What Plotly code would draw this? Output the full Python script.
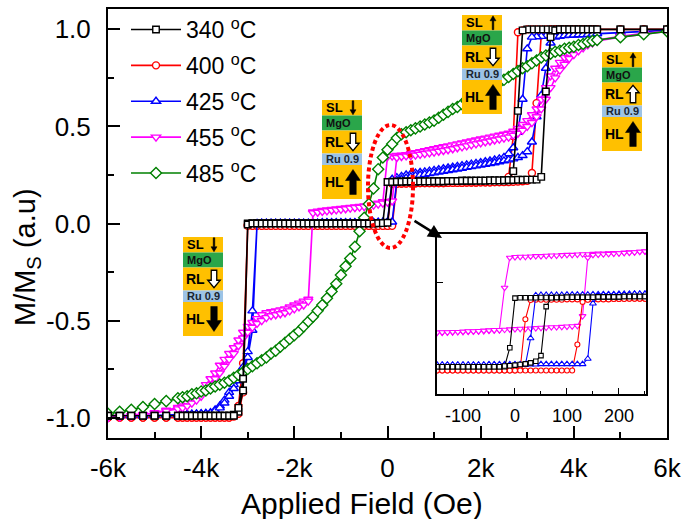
import plotly.graph_objects as go

# ---------------- data ----------------
H_GRID = [-6000, -5750, -5500, -5250, -5000, -4750, -4500,
          -4400, -4300, -4200, -4100, -4000, -3900, -3800, -3700, -3600, -3500,
          -3400, -3300, -3200, -3100, -3000, -2900, -2800, -2700, -2600, -2500,
          -2400, -2300, -2200, -2100, -2000, -1900, -1800, -1700, -1600, -1500,
          -1400, -1300, -1200, -1100, -1000, -900, -800, -700, -600, -500,
          -400, -300, -200, -100, 0, 100, 200, 300, 400, 500,
          600, 700, 800, 900, 1000, 1100, 1200, 1300, 1400, 1500,
          1600, 1700, 1800, 1900, 2000, 2100, 2200, 2300, 2400, 2500,
          2600, 2700, 2800, 2900, 3000, 3100, 3200, 3300, 3400, 3500,
          3600, 3700, 3800, 3900, 4000, 4100, 4200, 4300, 4400,
          4500, 5000, 5500, 6000]

# 340 C
M_340_DOWN = [-0.99, -0.99, -0.99, -0.99, -0.99, -0.99, -0.99,
              -0.99, -0.99, -0.99, -0.99, -0.99, -0.99, -0.99, -0.99, -0.99, -0.99,
              -0.99, -0.985, -0.97, -0.86, 0.0, 0.002, 0.002, 0.002, 0.002, 0.002,
              0.002, 0.002, 0.002, 0.002, 0.002, 0.002, 0.002, 0.002, 0.002, 0.002,
              0.002, 0.002, 0.002, 0.002, 0.002, 0.002, 0.002, 0.002, 0.002, 0.002,
              0.002, 0.002, 0.002, 0.003, 0.214, 0.215, 0.215, 0.216, 0.216, 0.216,
              0.216, 0.217, 0.217, 0.217, 0.218, 0.218, 0.218, 0.219, 0.219, 0.219,
              0.22, 0.22, 0.22, 0.221, 0.221, 0.221, 0.222, 0.222, 0.222, 0.223,
              0.223, 0.27, 0.58, 0.995, 1.0, 1.0, 1.0, 1.0, 1.0, 1.0,
              1.0, 1.0, 1.0, 1.0, 1.0, 1.0, 1.0, 1.0, 1.0,
              1.0, 1.0, 1.0, 1.0]
M_340_UP = [-0.99, -0.99, -0.99, -0.99, -0.99, -0.99, -0.99,
            -0.99, -0.99, -0.99, -0.99, -0.99, -0.99, -0.99, -0.99, -0.99, -0.99,
            -0.99, -0.99, -0.95, -0.80, -0.005, 0.0, 0.0, 0.0, 0.0, 0.0,
            0.0, 0.0, 0.0, 0.0, 0.0, 0.0, 0.0, 0.0, 0.0, 0.0,
            0.0, 0.0, 0.0, 0.0, 0.0, 0.0, 0.0, 0.0, 0.0, 0.0,
            0.0, 0.0, 0.001, 0.002, 0.004, 0.214, 0.215, 0.215, 0.216, 0.216,
            0.216, 0.217, 0.217, 0.217, 0.218, 0.218, 0.218, 0.219, 0.219, 0.219,
            0.22, 0.22, 0.22, 0.221, 0.221, 0.221, 0.222, 0.222, 0.222, 0.223,
            0.224, 0.224, 0.225, 0.225, 0.226, 0.226, 0.226, 0.24, 0.68, 0.96,
            0.995, 1.0, 1.0, 1.0, 1.0, 1.0, 1.0, 1.0, 1.0,
            1.0, 1.0, 1.0, 1.0]

# 400 C
M_400_DOWN = [-1.0, -1.0, -1.0, -1.0, -1.0, -1.0, -1.0,
              -1.0, -1.0, -1.0, -1.0, -1.0, -1.0, -1.0, -1.0, -1.0, -1.0,
              -1.0, -0.995, -0.98, -0.87, -0.008, -0.01, -0.01, -0.01, -0.01, -0.01,
              -0.01, -0.01, -0.01, -0.01, -0.01, -0.01, -0.01, -0.01, -0.01, -0.01,
              -0.01, -0.01, -0.01, -0.01, -0.01, -0.01, -0.01, -0.01, -0.01, -0.01,
              -0.01, -0.01, -0.011, -0.011, -0.012, 0.205, 0.206, 0.206, 0.207, 0.207,
              0.207, 0.208, 0.208, 0.208, 0.209, 0.209, 0.209, 0.21, 0.21, 0.21,
              0.21, 0.211, 0.211, 0.211, 0.212, 0.212, 0.212, 0.213, 0.213, 0.215,
              0.24, 0.45, 0.985, 0.995, 1.0, 1.0, 1.0, 1.0, 1.0, 1.0,
              1.0, 1.0, 1.0, 1.0, 1.0, 1.0, 1.0, 1.0, 1.0,
              1.0, 1.0, 1.0, 1.0]
M_400_UP = [-1.0, -1.0, -1.0, -1.0, -1.0, -1.0, -1.0,
            -1.0, -1.0, -1.0, -1.0, -1.0, -1.0, -1.0, -1.0, -1.0, -1.0,
            -1.0, -0.99, -0.94, -0.72, -0.012, -0.012, -0.012, -0.012, -0.012, -0.012,
            -0.012, -0.012, -0.012, -0.012, -0.012, -0.012, -0.012, -0.012, -0.012, -0.012,
            -0.012, -0.012, -0.012, -0.012, -0.012, -0.012, -0.012, -0.012, -0.012, -0.012,
            -0.012, -0.012, -0.012, -0.012, -0.012, -0.012, 0.205, 0.206, 0.206, 0.207,
            0.207, 0.208, 0.208, 0.208, 0.209, 0.209, 0.209, 0.21, 0.21, 0.21,
            0.21, 0.211, 0.211, 0.211, 0.212, 0.212, 0.212, 0.213, 0.213, 0.213,
            0.214, 0.215, 0.216, 0.218, 0.22, 0.26, 0.62, 0.97, 0.995, 1.0,
            1.0, 1.0, 1.0, 1.0, 1.0, 1.0, 1.0, 1.0, 1.0,
            1.0, 1.0, 1.0, 1.0]

# 425 C
M_425_DOWN = [-0.99, -0.99, -0.99, -0.99, -0.988, -0.986, -0.984,
              -0.984, -0.983, -0.982, -0.981, -0.98, -0.978, -0.974, -0.96, -0.94, -0.91,
              -0.87, -0.83, -0.79, -0.74, -0.66, -0.45, -0.003, 0.0, 0.0, 0.0,
              0.001, 0.001, 0.001, 0.001, 0.001, 0.001, 0.001, 0.001, 0.001, 0.001,
              0.003, 0.003, 0.003, 0.003, 0.003, 0.003, 0.003, 0.003, 0.003, 0.003,
              0.004, 0.005, 0.005, 0.006, 0.007, 0.228, 0.236, 0.243, 0.25, 0.255,
              0.26, 0.263, 0.266, 0.27, 0.274, 0.278, 0.282, 0.286, 0.29, 0.294,
              0.298, 0.302, 0.306, 0.31, 0.314, 0.318, 0.322, 0.327, 0.333, 0.34,
              0.36, 0.39, 0.47, 0.64, 0.9, 0.96, 0.962, 0.964, 0.966, 0.968,
              0.968, 0.969, 0.97, 0.971, 0.972, 0.973, 0.974, 0.975, 0.976,
              0.978, 0.985, 0.99, 0.995]
M_425_UP = [-0.99, -0.99, -0.99, -0.99, -0.988, -0.987, -0.986,
            -0.985, -0.984, -0.983, -0.982, -0.981, -0.98, -0.977, -0.965, -0.95, -0.925,
            -0.89, -0.85, -0.81, -0.76, -0.69, -0.55, 0.0, 0.002, 0.002, 0.002,
            0.002, 0.002, 0.002, 0.002, 0.002, 0.002, 0.002, 0.002, 0.002, 0.002,
            0.004, 0.004, 0.004, 0.004, 0.004, 0.004, 0.004, 0.004, 0.004, 0.004,
            0.006, 0.006, 0.007, 0.007, 0.008, 0.008, 0.222, 0.228, 0.234, 0.24,
            0.245, 0.249, 0.253, 0.257, 0.261, 0.265, 0.269, 0.273, 0.277, 0.281,
            0.285, 0.289, 0.293, 0.297, 0.301, 0.305, 0.309, 0.313, 0.318, 0.323,
            0.328, 0.333, 0.34, 0.35, 0.37, 0.42, 0.55, 0.66, 0.80, 0.93,
            0.96, 0.965, 0.968, 0.97, 0.971, 0.972, 0.973, 0.974, 0.975,
            0.978, 0.985, 0.99, 0.995]

# 455 C
M_455_DOWN = [-1.0, -0.995, -0.99, -0.985, -0.975, -0.962, -0.948,
              -0.94, -0.925, -0.91, -0.89, -0.87, -0.83, -0.80, -0.77, -0.73, -0.70,
              -0.67, -0.64, -0.60, -0.56, -0.53, -0.51, -0.49, -0.47, -0.46, -0.455,
              -0.45, -0.445, -0.44, -0.43, -0.42, -0.41, -0.40, -0.39, 0.06, 0.063,
              0.067, 0.07, 0.072, 0.075, 0.078, 0.08, 0.083, 0.085, 0.088, 0.09,
              0.095, 0.10, 0.105, 0.112, 0.345, 0.347, 0.35, 0.352, 0.355, 0.36,
              0.365, 0.37, 0.375, 0.38, 0.385, 0.39, 0.395, 0.40, 0.405, 0.41,
              0.415, 0.42, 0.425, 0.43, 0.435, 0.44, 0.445, 0.45, 0.455, 0.46,
              0.465, 0.475, 0.49, 0.51, 0.53, 0.56, 0.59, 0.64, 0.70, 0.76,
              0.80, 0.83, 0.855, 0.875, 0.89, 0.905, 0.915, 0.925, 0.935,
              0.945, 0.965, 0.98, 0.99]
M_455_UP = [-1.0, -0.995, -0.99, -0.985, -0.977, -0.966, -0.955,
            -0.95, -0.94, -0.925, -0.91, -0.89, -0.86, -0.83, -0.80, -0.77, -0.735,
            -0.70, -0.67, -0.63, -0.59, -0.56, -0.535, -0.515, -0.50, -0.485, -0.475,
            -0.47, -0.465, -0.46, -0.45, -0.44, -0.43, -0.42, -0.40, 0.055, 0.058,
            0.062, 0.065, 0.068, 0.07, 0.073, 0.076, 0.079, 0.082, 0.084, 0.087,
            0.09, 0.095, 0.10, 0.105, 0.11, 0.116, 0.34, 0.345, 0.348, 0.35,
            0.352, 0.356, 0.36, 0.364, 0.368, 0.372, 0.376, 0.38, 0.385, 0.39,
            0.395, 0.40, 0.405, 0.41, 0.415, 0.42, 0.425, 0.43, 0.435, 0.44,
            0.445, 0.455, 0.465, 0.48, 0.50, 0.52, 0.55, 0.59, 0.64, 0.70,
            0.75, 0.79, 0.82, 0.85, 0.87, 0.89, 0.905, 0.92, 0.93,
            0.94, 0.96, 0.975, 0.99]

# 485 C
M_485 = [-0.98, -0.97, -0.96, -0.945, -0.93, -0.915, -0.90,
         -0.895, -0.89, -0.88, -0.875, -0.865, -0.86, -0.85, -0.84, -0.83, -0.82,
         -0.81, -0.795, -0.78, -0.765, -0.75, -0.735, -0.72, -0.705, -0.69, -0.67,
         -0.655, -0.635, -0.615, -0.595, -0.575, -0.555, -0.53, -0.505, -0.48, -0.45,
         -0.42, -0.385, -0.35, -0.31, -0.265, -0.22, -0.18, -0.12, -0.04, 0.03,
         0.10, 0.18, 0.28, 0.34, 0.38, 0.41, 0.44, 0.46, 0.47, 0.48,
         0.49, 0.50, 0.51, 0.52, 0.53, 0.545, 0.56, 0.575, 0.59, 0.60,
         0.615, 0.63, 0.64, 0.655, 0.67, 0.685, 0.70, 0.71, 0.725, 0.74,
         0.755, 0.77, 0.785, 0.80, 0.81, 0.825, 0.84, 0.855, 0.865, 0.875,
         0.885, 0.89, 0.90, 0.905, 0.91, 0.92, 0.925, 0.935, 0.94,
         0.945, 0.96, 0.975, 0.99]

# inset (fine field sweep near zero)
H_INSET = [-150, -140, -130, -120, -110, -100, -90, -80, -70, -60, -50, -40, -30, -20, -10,
           0, 10, 20, 30, 40, 50, 60, 70, 80, 90, 100, 110, 120, 130, 140, 150,
           160, 170, 180, 190, 200, 210, 220, 230, 240, 250]
I_340_DOWN = [0.0, 0.0, 0.0, 0.0, 0.0, 0.0, 0.0, 0.0, 0.0, 0.0, 0.0, 0.0, 0.0, 0.0, 0.06,
              0.217, 0.218, 0.218, 0.218, 0.218, 0.219, 0.219, 0.219, 0.219, 0.219, 0.22, 0.22, 0.22, 0.22, 0.22, 0.22,
              0.221, 0.221, 0.221, 0.221, 0.221, 0.222, 0.222, 0.222, 0.222, 0.222]
I_340_UP = [0.0, 0.0, 0.0, 0.0, 0.0, 0.0, 0.0, 0.0, 0.0, 0.0, 0.0, 0.0, 0.0, 0.002, 0.003,
            0.005, 0.007, 0.009, 0.012, 0.017, 0.035, 0.19, 0.218, 0.219, 0.219, 0.22, 0.22, 0.22, 0.22, 0.22, 0.22,
            0.221, 0.221, 0.221, 0.221, 0.221, 0.222, 0.222, 0.222, 0.222, 0.222]
I_400_DOWN = [-0.012, -0.012, -0.012, -0.012, -0.012, -0.012, -0.012, -0.012, -0.012, -0.012, -0.012, -0.012, -0.012, -0.012, -0.012,
              -0.012, -0.008, 0.15, 0.211, 0.212, 0.212, 0.212, 0.212, 0.212, 0.212, 0.213, 0.213, 0.213, 0.213, 0.213, 0.213,
              0.214, 0.214, 0.214, 0.214, 0.214, 0.215, 0.215, 0.215, 0.215, 0.215]
I_400_UP = [-0.012, -0.012, -0.012, -0.012, -0.012, -0.012, -0.012, -0.012, -0.012, -0.012, -0.012, -0.012, -0.012, -0.012, -0.012,
            -0.012, -0.012, -0.012, -0.012, -0.012, -0.012, -0.012, -0.012, -0.012, -0.012, -0.012, -0.012, 0.07, 0.205, 0.212, 0.212,
            0.213, 0.213, 0.213, 0.214, 0.214, 0.214, 0.215, 0.215, 0.215, 0.215]
I_425_DOWN = [0.006, 0.006, 0.006, 0.006, 0.006, 0.006, 0.006, 0.006, 0.006, 0.006, 0.006, 0.006, 0.006, 0.006, 0.006,
              0.006, 0.006, 0.006, 0.09, 0.226, 0.227, 0.227, 0.227, 0.227, 0.227, 0.228, 0.228, 0.228, 0.228, 0.228, 0.229,
              0.229, 0.229, 0.229, 0.229, 0.23, 0.23, 0.23, 0.23, 0.23, 0.23]
I_425_UP = [0.006, 0.006, 0.006, 0.006, 0.006, 0.006, 0.006, 0.006, 0.006, 0.006, 0.007, 0.007, 0.007, 0.007, 0.007,
            0.007, 0.007, 0.007, 0.007, 0.007, 0.008, 0.008, 0.008, 0.008, 0.008, 0.008, 0.008, 0.008, 0.008, 0.025, 0.2,
            0.226, 0.228, 0.228, 0.228, 0.228, 0.229, 0.229, 0.23, 0.23, 0.23]
I_455_DOWN = [0.108, 0.108, 0.109, 0.109, 0.11, 0.11, 0.111, 0.112, 0.112, 0.113, 0.114, 0.115, 0.116, 0.25, 0.345,
              0.347, 0.348, 0.348, 0.349, 0.35, 0.35, 0.351, 0.352, 0.352, 0.353, 0.354, 0.354, 0.355, 0.356, 0.356, 0.357,
              0.358, 0.358, 0.359, 0.36, 0.36, 0.361, 0.362, 0.363, 0.364, 0.365]
I_455_UP = [0.108, 0.109, 0.109, 0.11, 0.11, 0.111, 0.112, 0.112, 0.113, 0.114, 0.115, 0.116, 0.116, 0.117, 0.118,
            0.119, 0.12, 0.12, 0.121, 0.122, 0.123, 0.124, 0.125, 0.125, 0.126, 0.127, 0.128, 0.129, 0.16, 0.345, 0.354,
            0.355, 0.356, 0.357, 0.358, 0.359, 0.36, 0.361, 0.362, 0.364, 0.365]

SERIES_NAMES = ["340 <sup>o</sup>C", "400 <sup>o</sup>C", "425 <sup>o</sup>C",
                "455 <sup>o</sup>C", "485 <sup>o</sup>C"]
X_TITLE = "Applied Field (Oe)"
Y_TITLE = "M/M<sub>S</sub> (a.u)"
X_TICK_VALS = [-6000, -4000, -2000, 0, 2000, 4000, 6000]
X_TICK_TEXT = ["-6k", "-4k", "-2k", "0", "2k", "4k", "6k"]
Y_TICK_VALS = [-1.0, -0.5, 0.0, 0.5, 1.0]
Y_TICK_TEXT = ["-1.0", "-0.5", "0.0", "0.5", "1.0"]
INSET_X_TICK_VALS = [-100, 0, 100, 200]
INSET_X_TICK_TEXT = ["-100", "0", "100", "200"]

# ---------------- figure ----------------
W, H = 685, 519
PL, PR, PT, PB = 108, 667, 9, 438
FONT = "Liberation Sans, Arial, sans-serif"


def px(x):
    return (x - PL) / (PR - PL)


def py(y):
    return (PB - y) / (PB - PT)


def loop(down, up):
    xs = list(reversed(H_GRID)) + list(H_GRID)
    ys = list(reversed(down)) + list(up)
    return xs, ys


def inset_loop(down, up):
    xs = list(reversed(H_INSET)) + list(H_INSET)
    ys = list(reversed(down)) + list(up)
    return xs, ys


STYLE = {
    0: dict(color="#000000", symbol="square", size=6.5),
    1: dict(color="#FF0000", symbol="circle", size=7),
    2: dict(color="#0000FF", symbol="triangle-up", size=8),
    3: dict(color="#FF00FF", symbol="triangle-down", size=8),
    4: dict(color="#008000", symbol="diamond", size=8.5),
}

fig = go.Figure()

main_data = {
    0: loop(M_340_DOWN, M_340_UP),
    1: loop(M_400_DOWN, M_400_UP),
    2: loop(M_425_DOWN, M_425_UP),
    3: loop(M_455_DOWN, M_455_UP),
    4: (list(H_GRID), list(M_485)),
}
inset_data = {
    0: inset_loop(I_340_DOWN, I_340_UP),
    1: inset_loop(I_400_DOWN, I_400_UP),
    2: inset_loop(I_425_DOWN, I_425_UP),
    3: inset_loop(I_455_DOWN, I_455_UP),
}

for k in [1, 2, 3, 4, 0]:
    st = STYLE[k]
    xs, ys = main_data[k]
    fig.add_trace(go.Scatter(
        x=xs, y=ys, mode="lines+markers", name=SERIES_NAMES[k], legendrank=k + 1,
        legendgroup="g%d" % k,
        line=dict(color=st["color"], width=1.6),
        marker=dict(symbol=st["symbol"], size=st["size"], color="white",
                    line=dict(color=st["color"], width=1.4)),
    ))

for k in [3, 1, 2, 0]:
    st = STYLE[k]
    xs, ys = inset_data[k]
    fig.add_trace(go.Scatter(
        x=xs, y=ys, mode="lines+markers", showlegend=False,
        xaxis="x2", yaxis="y2",
        line=dict(color=st["color"], width=1.1),
        marker=dict(symbol=st["symbol"], size=st["size"] - 2, color="white",
                    line=dict(color=st["color"], width=1.1)),
    ))

# ---- layer-stack boxes ----
ORANGE = "#FFC000"
GREEN = "#2AA64A"
LBLUE = "#9DC3E6"
ROWS = [("SL", 15.5, ORANGE), ("MgO", 15.0, GREEN), ("RL", 23.0, ORANGE),
        ("Ru 0.9", 11.5, LBLUE), ("HL", 34.0, ORANGE)]
# (left px, top px, SL direction, RL direction, HL direction); +1 = up, -1 = down
BOXES = [(322, 100, -1, -1, 1),
         (462, 15, 1, -1, 1),
         (602, 52, 1, 1, 1),
         (183, 237, -1, -1, -1)]
BOX_W = 40
# arrow geometry per row: (height, shaft width, head width, head height, hollow)
ARROW_GEOM = {"SL": (14.0, 1.6, 6.0, 5.0, False),
              "RL": (17.5, 5.5, 12.5, 7.5, True),
              "HL": (25.0, 6.5, 15.0, 11.0, False)}


def arrow_path(cx, cy, direction, geom):
    hgt, sw, hw, hh, _ = geom
    s = direction  # +1 up (screen y decreasing)
    tip = cy - s * hgt / 2
    tail = cy + s * hgt / 2
    base = tip + s * hh
    pts = [(cx - sw / 2, tail), (cx - sw / 2, base), (cx - hw / 2, base), (cx, tip),
           (cx + hw / 2, base), (cx + sw / 2, base), (cx + sw / 2, tail)]
    return "M " + " L ".join("%.5f,%.5f" % (px(a), py(b)) for a, b in pts) + " Z"


shapes = []
annotations = []
for left, top, sl_dir, rl_dir, hl_dir in BOXES:
    y = top
    dirs = {"SL": sl_dir, "RL": rl_dir, "HL": hl_dir}
    for label, hgt, col in ROWS:
        shapes.append(dict(type="rect", xref="paper", yref="paper",
                           x0=px(left), x1=px(left + BOX_W), y0=py(y + hgt), y1=py(y),
                           fillcolor=col, line=dict(width=0), layer="above"))
        mid = y + hgt / 2
        if label in ("SL", "RL", "HL"):
            lsize = {"SL": 13, "RL": 14, "HL": 14}[label]
            annotations.append(dict(xref="paper", yref="paper", x=px(left + 12.5), y=py(mid),
                                    text="<b>%s</b>" % label, showarrow=False,
                                    xanchor="center", yanchor="middle",
                                    font=dict(family=FONT, size=lsize, color="black")))
            geom = ARROW_GEOM[label]
            hollow = geom[4]
            shapes.append(dict(type="path", xref="paper", yref="paper",
                               path=arrow_path(left + 31, mid, dirs[label], geom),
                               fillcolor="white" if hollow else "black",
                               line=dict(color="black", width=1.3 if hollow else 0.5),
                               layer="above"))
        elif label == "MgO":
            annotations.append(dict(xref="paper", yref="paper", x=px(left + 16), y=py(mid),
                                    text="<b>MgO</b>", showarrow=False,
                                    xanchor="center", yanchor="middle",
                                    font=dict(family=FONT, size=11, color="#111111")))
        else:
            annotations.append(dict(xref="paper", yref="paper", x=px(left + 20), y=py(mid),
                                    text="<b>Ru 0.9</b>", showarrow=False,
                                    xanchor="center", yanchor="middle",
                                    font=dict(family=FONT, size=11, color="#1a2530")))
        y += hgt

# red dotted ellipse around the zero-field region
shapes.append(dict(type="circle", xref="paper", yref="paper",
                   x0=px(368), x1=px(413), y0=py(248), y1=py(125),
                   line=dict(color="#FF0000", width=4, dash="4px,3px"), layer="above"))

# arrow pointing to the inset
annotations.append(dict(xref="paper", yref="paper", x=px(442), y=py(238), ax=-29, ay=-18,
                        text="", showarrow=True, arrowhead=2, arrowsize=1.1,
                        arrowwidth=2.5, arrowcolor="black", standoff=0))

# axis titles (placed where the reference has them)
annotations.append(dict(xref="paper", yref="paper", x=px(362), y=py(503),
                        text=X_TITLE, showarrow=False, xanchor="center", yanchor="middle",
                        font=dict(family=FONT, size=30, color="black")))
annotations.append(dict(xref="paper", yref="paper", x=px(27), y=py(257),
                        text=Y_TITLE, showarrow=False, xanchor="center", yanchor="middle",
                        textangle=-90, font=dict(family=FONT, size=29, color="black")))

axis_common = dict(showline=True, mirror=True, linecolor="black", linewidth=2,
                   showgrid=False, zeroline=False, ticks="inside", tickcolor="black")

fig.update_layout(
    width=W, height=H,
    margin=dict(l=PL, r=W - PR, t=PT, b=H - PB, autoexpand=False),
    paper_bgcolor="white", plot_bgcolor="white",
    font=dict(family=FONT, color="black"),
    shapes=shapes, annotations=annotations,
    legend=dict(x=px(126), y=py(8), xanchor="left", yanchor="top",
                bgcolor="rgba(0,0,0,0)", font=dict(family=FONT, size=23),
                itemwidth=50, traceorder="grouped", tracegroupgap=3),
    xaxis=dict(**axis_common, range=[-6000, 6000], tickvals=X_TICK_VALS, ticktext=X_TICK_TEXT,
               ticklen=12, tickwidth=1.5, tickfont=dict(size=26), ticklabelstandoff=6,
               minor=dict(tickmode="linear", tick0=0, dtick=1000, ticks="inside",
                          ticklen=6, tickwidth=1.5, tickcolor="black", showgrid=False)),
    yaxis=dict(**axis_common, range=[-1.105, 1.105], tickvals=Y_TICK_VALS, ticktext=Y_TICK_TEXT,
               ticklen=12, tickwidth=1.5, tickfont=dict(size=26), ticklabelstandoff=10,
               minor=dict(tickmode="linear", tick0=0, dtick=0.25, ticks="inside",
                          ticklen=6, tickwidth=1.5, tickcolor="black", showgrid=False)),
    xaxis2=dict(**axis_common, domain=[px(437), px(646)], anchor="y2", range=[-150, 252],
                tickvals=INSET_X_TICK_VALS, ticktext=INSET_X_TICK_TEXT,
                ticklen=6, tickwidth=1.3, tickfont=dict(size=18), ticklabelstandoff=4,
                minor=dict(tickmode="linear", tick0=0, dtick=50, ticks="inside",
                           ticklen=3, tickwidth=1.3, tickcolor="black", showgrid=False)),
    yaxis2=dict(**axis_common, domain=[py(394), py(234)], anchor="x2", range=[-0.0865, 0.42],
                tickvals=[0.265], showticklabels=False, ticklen=6, tickwidth=1.3),
)

fig.write_html("out.html", config={"displayModeBar": False},
               post_script="document.body.style.margin='0';")
